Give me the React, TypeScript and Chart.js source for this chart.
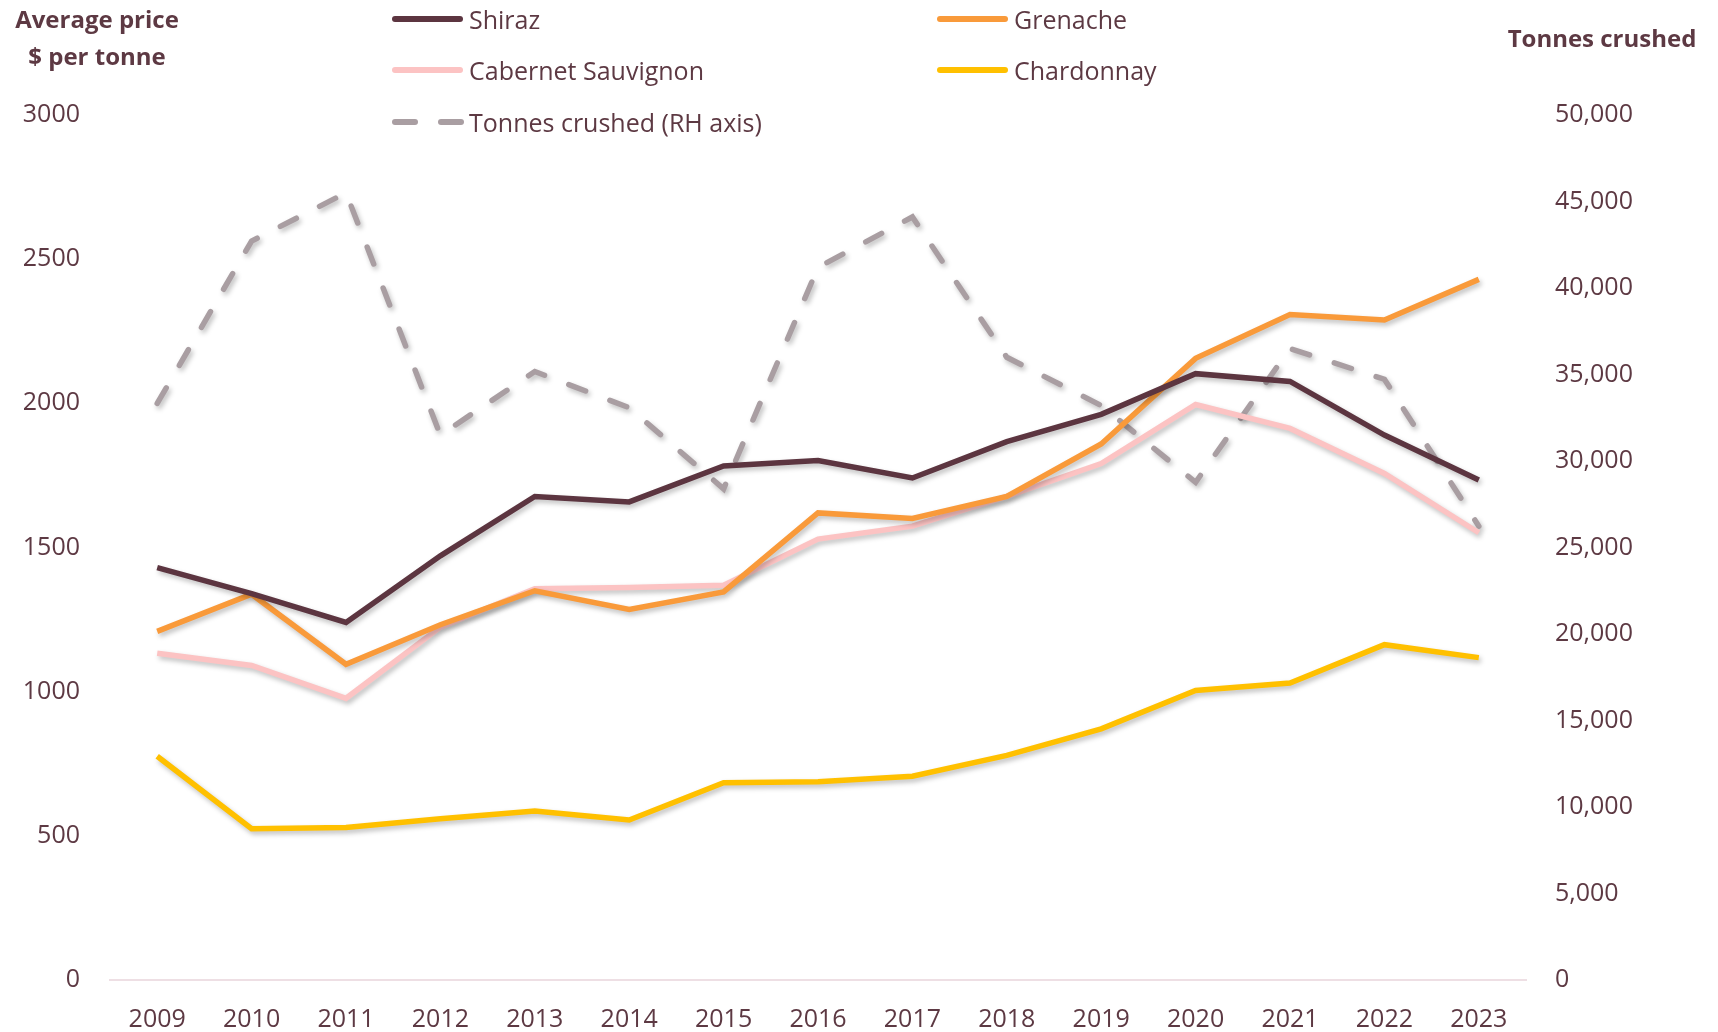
import React, { useEffect, useRef } from "react";
import { Chart, registerables } from "chart.js";

Chart.register(...registerables);

const years = ["2009","2010","2011","2012","2013","2014","2015","2016","2017","2018","2019","2020","2021","2022","2023"];
const shiraz = [1430,1340,1240,1471,1677,1658,1783,1802,1741,1867,1962,2103,2076,1890,1734];
const grenache = [1209,1338,1095,1232,1350,1285,1346,1620,1601,1677,1859,2156,2308,2289,2430];
const cabernet = [1133,1091,977,1224,1357,1361,1369,1529,1574,1677,1791,1996,1913,1757,1551];
const chardonnay = [776,525,529,559,586,555,684,688,707,779,871,1004,1030,1163,1118];
const tonnes = [33333,42712,45501,31496,35171,33080,28390,41191,44106,35995,33207,28770,36502,34727,26236];

const TEXT = "#5D3943";
const FONT = "'Open Sans', sans-serif";
const FS = 25;

const series = [
  { label: "Shiraz", data: shiraz, color: "#5C3540", dashed: false, axis: "y" },
  { label: "Grenache", data: grenache, color: "#F99A3A", dashed: false, axis: "y" },
  { label: "Cabernet Sauvignon", data: cabernet, color: "#FCC3C3", dashed: false, axis: "y" },
  { label: "Chardonnay", data: chardonnay, color: "#FFC000", dashed: false, axis: "y" },
  { label: "Tonnes crushed (RH axis)", data: tonnes, color: "#A99EA2", dashed: true, axis: "y1" },
];

const legendPos = [
  { x: 392, y: 19 },
  { x: 937, y: 19 },
  { x: 392, y: 70 },
  { x: 937, y: 70 },
  { x: 392, y: 122 },
];

const shadowPlugin = {
  id: "shadow",
  beforeDatasetDraw(chart: any) {
    const ctx = chart.ctx;
    ctx.save();
    ctx.shadowColor = "rgba(0,0,0,0.25)";
    ctx.shadowBlur = 5;
    ctx.shadowOffsetX = 2;
    ctx.shadowOffsetY = 3;
  },
  afterDatasetDraw(chart: any) {
    chart.ctx.restore();
  },
};

export default function App() {
  const ref = useRef<HTMLCanvasElement>(null);
  useEffect(() => {
    if (!ref.current) return;
    const chart = new Chart(ref.current, {
      type: "line",
      data: {
        labels: years,
        datasets: series.map((s) => ({
          label: s.label,
          data: s.data,
          borderColor: s.color,
          backgroundColor: s.color,
          borderWidth: 5.5,
          pointRadius: 0,
          tension: 0,
          fill: false,
          yAxisID: s.axis,
          borderDash: s.dashed ? [18, 26] : [],
          borderCapStyle: s.dashed ? "round" : "butt",
          borderJoinStyle: "miter",
        })),
      },
      plugins: [shadowPlugin],
      options: {
        responsive: false,
        animation: false,
        layout: { padding: { top: 115, left: 0, right: 0, bottom: 0 } },
        plugins: { legend: { display: false }, tooltip: { enabled: false } },
        scales: {
          x: {
            type: "category",
            offset: true,
            grid: { display: false, drawTicks: false },
            border: { display: true, color: "#EEDFE4", width: 2 },
            ticks: { color: TEXT, font: { family: FONT, size: FS }, padding: 25, maxRotation: 0, autoSkip: false },
            afterFit: (s: any) => { s.height = 52; },
          },
          y: {
            position: "left",
            min: 0,
            max: 3000,
            grid: { display: false, drawTicks: false },
            border: { display: false },
            ticks: { stepSize: 500, color: TEXT, font: { family: FONT, size: FS }, padding: 30, callback: (v: any) => String(v) },
            afterFit: (s: any) => { s.width = 110; },
          },
          y1: {
            position: "right",
            min: 0,
            max: 50000,
            grid: { display: false, drawTicks: false },
            border: { display: false },
            ticks: { stepSize: 5000, color: TEXT, font: { family: FONT, size: FS }, padding: 29, callback: (v: any) => Number(v).toLocaleString("en-US") },
            afterFit: (s: any) => { s.width = 192; },
          },
        },
      } as any,
    });
    return () => chart.destroy();
  }, []);

  const titleStyle: React.CSSProperties = {
    position: "absolute",
    fontFamily: FONT,
    fontWeight: 700,
    fontSize: 24,
    color: TEXT,
    whiteSpace: "nowrap",
    transform: "translate(-50%, -50%)",
    lineHeight: 1,
  };

  return (
    <div style={{ position: "absolute", left: 0, top: 0, width: 1718, height: 1032, background: "#fff", overflow: "hidden" }}>
      <canvas ref={ref} width={1718} height={1032} style={{ position: "absolute", left: 0, top: 0, width: 1718, height: 1032 }} />
      <div style={{ ...titleStyle, left: 97, top: 19 }}>Average price</div>
      <div style={{ ...titleStyle, left: 97, top: 56 }}>$ per tonne</div>
      <div style={{ ...titleStyle, left: 1602, top: 38 }}>Tonnes crushed</div>
      {series.map((s, i) => {
        const p = legendPos[i];
        return (
          <div key={s.label} style={{ position: "absolute", left: p.x, top: p.y, height: 0 }}>
            {s.dashed ? (
              <>
                <div style={{ position: "absolute", left: 0, top: -3, width: 26, height: 6, borderRadius: 3, background: s.color }} />
                <div style={{ position: "absolute", left: 46, top: -3, width: 26, height: 6, borderRadius: 3, background: s.color }} />
              </>
            ) : (
              <div style={{ position: "absolute", left: 0, top: -3, width: 71, height: 6, borderRadius: 3, background: s.color }} />
            )}
            <div style={{ position: "absolute", left: 77, top: 0, transform: "translateY(-50%)", fontFamily: FONT, fontSize: FS, color: TEXT, whiteSpace: "nowrap", lineHeight: 1 }}>
              {s.label}
            </div>
          </div>
        );
      })}
    </div>
  );
}
